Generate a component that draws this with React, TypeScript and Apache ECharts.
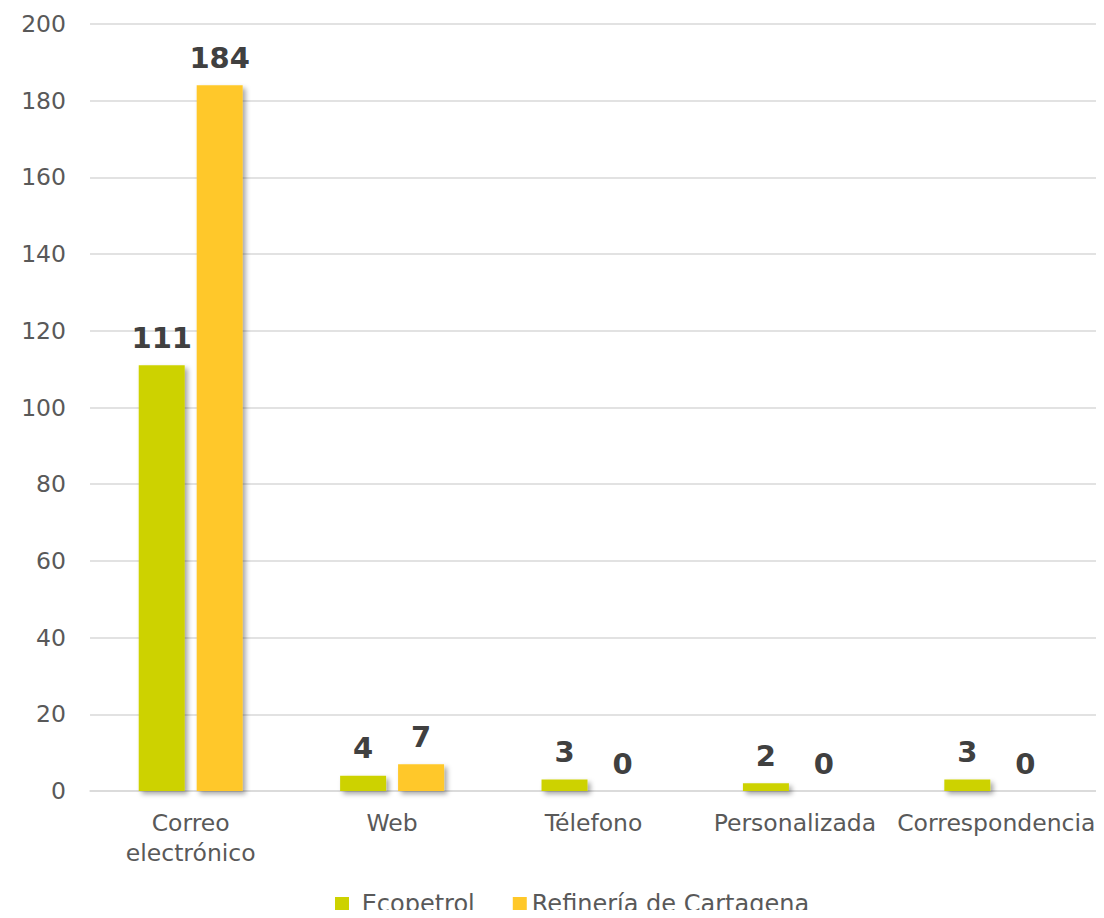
import React, { useEffect, useRef } from "react";
import * as echarts from "echarts";

const categories = ["Correo\nelectrónico", "Web", "Télefono", "Personalizada", "Correspondencia"];
const ecopetrol = [111, 4, 3, 2, 3];
const refineria = [184, 7, 0, 0, 0];
const seriesNames = ["Ecopetrol", "Refinería de Cartagena"];
const colors = ["#CDD200", "#FFC829"];

export default function App() {
  const ref = useRef<HTMLDivElement>(null);
  useEffect(() => {
    const chart = echarts.init(ref.current!, undefined, { renderer: "svg" });
    const font = "'DejaVu Sans', Verdana, sans-serif";
    const label = {
      show: true,
      position: "top",
      distance: 13,
      color: "#404040",
      fontFamily: font,
      fontWeight: "bold",
      fontSize: 29,
    };
    const itemStyle = (c: string) => ({
      color: c,
      shadowColor: "rgba(0,0,0,0.35)",
      shadowBlur: 5,
      shadowOffsetX: 3,
      shadowOffsetY: 3,
    });
    chart.setOption({
      animation: false,
      grid: { left: 90, right: 7, top: 24, bottom: 127, containLabel: false },
      legend: {
        top: 892,
        left: 335,
        padding: 0,
        itemWidth: 14,
        itemHeight: 14,
        itemGap: 38,
        icon: "rect",
        formatter: (name: string) => (name === "Ecopetrol" ? " " + name : name),
        textStyle: { color: "#595959", fontSize: 24, fontFamily: font },
        data: seriesNames,
      },
      xAxis: {
        type: "category",
        data: categories,
        axisLine: { lineStyle: { color: "#D9D9D9", width: 1.5 } },
        axisTick: { show: false },
        axisLabel: {
          color: "#595959",
          fontSize: 23.5,
          fontFamily: font,
          margin: 17,
          lineHeight: 30,
          interval: 0,
        },
      },
      yAxis: {
        type: "value",
        min: 0,
        max: 200,
        interval: 20,
        axisLine: { show: false },
        axisTick: { show: false },
        splitLine: { lineStyle: { color: "#D9D9D9", width: 1.5 } },
        axisLabel: { color: "#595959", fontSize: 23.5, fontFamily: font, margin: 24 },
      },
      series: [
        {
          name: seriesNames[0],
          type: "bar",
          data: ecopetrol,
          barWidth: 46,
          barGap: "26%",
          itemStyle: itemStyle(colors[0]),
          label,
        },
        {
          name: seriesNames[1],
          type: "bar",
          data: refineria,
          barWidth: 46,
          itemStyle: itemStyle(colors[1]),
          label,
        },
      ],
    });
    return () => chart.dispose();
  }, []);
  return <div ref={ref} style={{ width: 1104, height: 918, margin: -8 }} />;
}
